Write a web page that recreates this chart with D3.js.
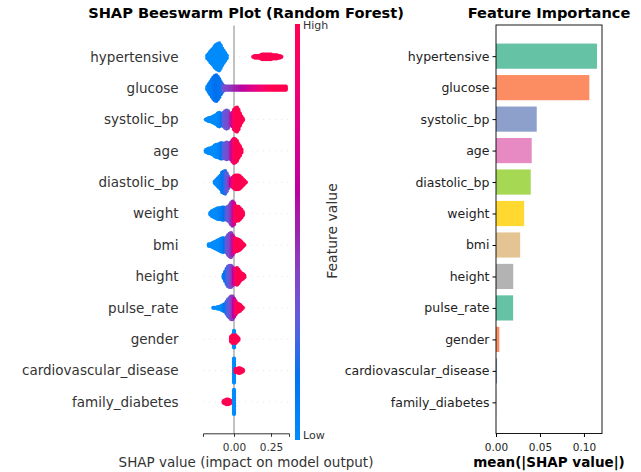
<!DOCTYPE html>
<html>
<head>
<meta charset="utf-8">
<script src="https://cdn.jsdelivr.net/npm/d3@7"></script>
<style>
  html, body { margin: 0; padding: 0; background: #fff; }
  svg { display: block; font-family: "DejaVu Sans", sans-serif; }
</style>
</head>
<body>
<script>
// Features, ordered from most to least important
const features = ["hypertensive", "glucose", "systolic_bp", "age", "diastolic_bp", "weight",
  "bmi", "height", "pulse_rate", "gender", "cardiovascular_disease", "family_diabetes"];

// mean(|SHAP value|) per feature
const meanAbsShap = [0.1148, 0.1061, 0.0463, 0.0406, 0.0395, 0.0320,
  0.0275, 0.0196, 0.0195, 0.0038, 0.0012, 0.0002];

// Set2 palette cycling over the bars
const barColors = ["#66c2a5", "#fc8d62", "#8da0cb", "#e78ac3", "#a6d854", "#ffd92f",
  "#e5c494", "#b3b3b3", "#66c2a5", "#fc8d62", "#8da0cb", "#e78ac3"];

const shapTicks = [0, 0.25];
const importanceTicks = [0, 0.05, 0.10];

// Beeswarm bins per feature: [SHAP value, number of stacked points, feature value 0..1]
const swarmBins = [
  // hypertensive
  [[-0.18,3,0],[-0.17,5,0],[-0.16,8,0],[-0.15,10,0],[-0.14,12,0],[-0.13,15,0],[-0.12,17,0],
   [-0.11,18,0],[-0.10,19,0],[-0.09,16,0],[-0.08,12,0],[-0.07,9,0],[-0.06,6,0],[-0.05,3,0],
   [0.13,1,1],[0.14,2,1],[0.15,2,1],[0.16,2,1],[0.17,2,1],[0.18,3,1],[0.19,4,1],[0.20,4,1],
   [0.21,4,1],[0.22,4,1],[0.23,4,1],[0.24,4,1],[0.25,4,1],[0.26,3,1],[0.27,3,1],[0.28,3,1],
   [0.29,3,1],[0.30,2,1],[0.31,2,1],[0.32,1,1]],
  // glucose
  [[-0.18,3,0.02],[-0.17,6,0.05],[-0.16,9,0.08],[-0.15,12,0.1],[-0.14,15,0.12],[-0.13,17,0.15],
   [-0.12,18,0.17],[-0.11,16,0.17],[-0.10,13,0.15],[-0.09,9,0.15],[-0.08,6,0.2],[-0.07,4,0.3],
   [-0.06,3,0.35],[-0.05,3,0.38],[-0.04,3,0.4],[-0.03,3,0.42],[-0.02,3,0.44],[-0.01,3,0.46],
   [0.00,3,0.48],[0.01,3,0.5],[0.02,3,0.52],[0.03,3,0.54],[0.04,3,0.56],[0.05,3,0.58],
   [0.06,3,0.6],[0.07,3,0.62],[0.08,3,0.64],[0.09,3,0.66],[0.10,3,0.68],[0.11,3,0.7],
   [0.12,3,0.72],[0.13,3,0.74],[0.14,3,0.76],[0.15,3,0.78],[0.16,3,0.8],[0.17,3,0.82],
   [0.18,3,0.84],[0.19,3,0.86],[0.20,3,0.88],[0.21,3,0.9],[0.22,3,0.92],[0.23,3,0.94],
   [0.24,3,0.96],[0.25,3,0.98],[0.26,3,1],[0.27,3,1],[0.28,3,1],[0.29,3,1],[0.30,3,1],
   [0.31,3,1],[0.32,3,1],[0.33,3,1],[0.34,3,1],[0.35,3,1]],
  // systolic_bp
  [[-0.19,1,0],[-0.18,2,0],[-0.17,3,0],[-0.16,3,0],[-0.15,4,0],[-0.14,5,0],[-0.13,6,0],
   [-0.12,7,0],[-0.11,9,0],[-0.10,10,0.03],[-0.09,9,0.08],[-0.08,8,0.15],[-0.07,10,0.28],
   [-0.06,12,0.3],[-0.05,13,0.32],[-0.04,12,0.35],[-0.03,9,0.4],[-0.02,8,0.5],[-0.01,10,0.7],
   [0.00,14,0.85],[0.01,16,1],[0.02,17,1],[0.03,14,1],[0.04,9,1],[0.05,5,1],[0.06,2,1]],
  // age
  [[-0.19,2,0],[-0.18,3,0],[-0.17,4,0],[-0.16,4,0],[-0.15,5,0],[-0.14,6,0],[-0.13,8,0],
   [-0.12,9,0],[-0.11,9,0],[-0.10,10,0.03],[-0.09,11,0.08],[-0.08,11,0.15],[-0.07,10,0.25],
   [-0.06,11,0.3],[-0.05,12,0.32],[-0.04,11,0.35],[-0.03,11,0.4],[-0.02,12,0.5],
   [-0.01,15,0.7],[0.00,17,0.85],[0.01,16,1],[0.02,14,1],[0.03,10,1],[0.04,7,1],[0.05,3,1]],
  // diastolic_bp
  [[-0.13,2,0],[-0.12,4,0],[-0.11,6,0],[-0.10,8,0.03],[-0.09,10,0.06],[-0.08,14,0.1],
   [-0.07,15,0.15],[-0.06,16,0.2],[-0.05,13,0.28],[-0.04,9,0.35],[-0.03,6,0.45],[-0.02,5,0.6],
   [-0.01,7,0.8],[0.00,9,0.92],[0.01,10,1],[0.02,10,1],[0.03,10,1],[0.04,9,1],[0.05,7,1],
   [0.06,5,1],[0.07,3,1],[0.08,1,1]],
  // weight
  [[-0.16,2,0],[-0.15,4,0],[-0.14,5,0],[-0.13,6,0],[-0.12,7,0],[-0.11,8,0],[-0.10,8,0.03],
   [-0.09,8,0.06],[-0.08,9,0.1],[-0.07,9,0.14],[-0.06,8,0.18],[-0.05,9,0.25],[-0.04,10,0.3],
   [-0.03,12,0.35],[-0.02,15,0.4],[-0.01,17,0.5],[0.00,15,0.7],[0.01,11,0.95],[0.02,10,1],
   [0.03,10,1],[0.04,8,1],[0.05,6,1],[0.06,3,1]],
  // bmi
  [[-0.17,2,0],[-0.16,2,0],[-0.15,3,0],[-0.14,4,0],[-0.13,5,0],[-0.12,6,0],[-0.11,7,0],
   [-0.10,8,0],[-0.09,9,0.03],[-0.08,10,0.06],[-0.07,10,0.1],[-0.06,9,0.18],[-0.05,11,0.28],
   [-0.04,14,0.32],[-0.03,16,0.36],[-0.02,17,0.42],[-0.01,14,0.55],[0.00,11,0.75],[0.01,9,0.95],
   [0.02,9,1],[0.03,8,1],[0.04,7,1],[0.05,5,1],[0.06,3,1],[0.07,1,1]],
  // height
  [[-0.07,3,0.1],[-0.06,7,0.15],[-0.05,11,0.2],[-0.04,14,0.25],[-0.03,15,0.3],[-0.02,15,0.35],
   [-0.01,13,0.45],[0.00,11,0.6],[0.01,11,0.8],[0.02,12,0.95],[0.03,10,1],[0.04,7,1],[0.05,5,1],
   [0.06,4,1],[0.07,2,1]],
  // pulse_rate
  [[-0.14,1,0],[-0.13,1,0],[-0.12,1,0],[-0.11,2,0],[-0.10,2,0],[-0.09,3,0],[-0.08,4,0],
   [-0.07,5,0.08],[-0.06,6,0.15],[-0.05,9,0.2],[-0.04,12,0.25],[-0.03,14,0.3],[-0.02,16,0.35],
   [-0.01,16,0.45],[0.00,13,0.6],[0.01,10,0.8],[0.02,7,0.95],[0.03,6,1],[0.04,5,1],[0.05,3,1],
   [0.06,1,1]],
  // gender
  [[0.00,12,0],[-0.02,4,1],[-0.01,6,1],[0.01,6,1],[0.02,4,1],[0.03,2,1]],
  // cardiovascular_disease
  [[0.00,17,0],[0.01,3,1],[0.02,3,1],[0.03,4,1],[0.04,4,1],[0.05,3,1],[0.06,2,1]],
  // family_diabetes
  [[-0.07,2,1],[-0.06,3,1],[-0.05,4,1],[-0.04,4,1],[-0.03,3,1],[-0.02,2,1],[0.00,17,0]]
];

const W = 641, H = 472;
const svg = d3.select("body").append("svg").attr("width", W).attr("height", H);
svg.append("rect").attr("width", W).attr("height", H).attr("fill", "#fff");

// Blue-to-red feature value colormap: hue swept through purple in LCh (D65),
// lightness dipping in the middle so the purples stay deep
function featureColor(t) {
  const L = t < 0.5 ? 54 - 14 * (t / 0.5) : 40 + 14 * ((t - 0.5) / 0.5);
  const C = 70 + 20 * t;
  const h0 = 4.6588, h1 = 0.35470565 + 2 * Math.PI;
  const h = h0 + t * (h1 - h0);
  const a = C * Math.cos(h), b = C * Math.sin(h);
  const fy = (L + 16) / 116, fx = fy + a / 500, fz = fy - b / 200;
  const finv = v => v > 0.206893 ? v * v * v : (v - 16 / 116) / 7.787;
  const X = 0.95047 * finv(fx), Y = finv(fy), Z = 1.08883 * finv(fz);
  const lin = [
    3.2406 * X - 1.5372 * Y - 0.4986 * Z,
    -0.9689 * X + 1.8758 * Y + 0.0415 * Z,
    0.0557 * X - 0.2040 * Y + 1.0570 * Z
  ];
  const g = v => {
    const s = v > 0.0031308 ? 1.055 * Math.pow(v, 1 / 2.4) - 0.055 : 12.92 * v;
    return Math.round(255 * Math.max(0, Math.min(1, s)));
  };
  return d3.rgb(g(lin[0]), g(lin[1]), g(lin[2])).formatHex();
}

// ---------- Beeswarm panel ----------
const xS = d3.scaleLinear().domain([-0.2095, 0.3716]).range([203, 289]);
const yS = d3.scaleLinear().domain([-1, 12]).range([25.4, 433.3]);
const left = svg.append("g");

// dotted row guides
left.append("g").selectAll("line").data(features).join("line")
  .attr("x1", xS.range()[0]).attr("x2", xS.range()[1])
  .attr("y1", (d, i) => yS(i)).attr("y2", (d, i) => yS(i))
  .attr("stroke", "#cccccc").attr("stroke-width", 0.5).attr("stroke-dasharray", "1,5");

// zero line
left.append("line")
  .attr("x1", xS(0)).attr("x2", xS(0)).attr("y1", yS(-1)).attr("y2", yS(12))
  .attr("stroke", "#999999").attr("stroke-width", 1.2);

// points
const step = 1.5, rad = 2.1;
const dots = [];
swarmBins.forEach((bins, i) => {
  bins.forEach(([s, n, c]) => {
    for (let k = 0; k < n; k++) {
      dots.push({ x: xS(s), y: yS(i) + (k - (n - 1) / 2) * step, c });
    }
  });
});
left.append("g").selectAll("circle").data(dots).join("circle")
  .attr("cx", d => d.x).attr("cy", d => d.y).attr("r", rad)
  .attr("fill", d => featureColor(d.c));

// feature labels
left.append("g").selectAll("text").data(features).join("text")
  .attr("x", 178.5).attr("y", (d, i) => yS(i)).attr("dy", "0.35em")
  .attr("text-anchor", "end").attr("font-size", 13.5).attr("fill", "#333333")
  .text(d => d);

// x axis
const xAxisL = left.append("g").attr("transform", `translate(0,${yS(12)})`)
  .call(d3.axisBottom(xS).tickValues(shapTicks).tickFormat(d3.format(".2f")).tickSizeOuter(0).tickSize(3.5));
xAxisL.select(".domain").attr("stroke", "#333333");
xAxisL.selectAll(".tick line").attr("stroke", "#333333");
xAxisL.selectAll(".tick text").attr("font-size", 10.5).attr("fill", "#333333")
  .attr("font-family", "DejaVu Sans").attr("dy", "1.05em");

left.append("text").attr("x", 246).attr("y", 466.5).attr("text-anchor", "middle")
  .attr("font-size", 13.5).attr("fill", "#333333")
  .text("SHAP value (impact on model output)");

left.append("text").attr("x", 246).attr("y", 17.5).attr("text-anchor", "middle")
  .attr("font-size", 14.6).attr("font-weight", "bold").attr("fill", "#000")
  .text("SHAP Beeswarm Plot (Random Forest)");

// colour bar
const defs = svg.append("defs");
const grad = defs.append("linearGradient").attr("id", "fv")
  .attr("x1", 0).attr("y1", 1).attr("x2", 0).attr("y2", 0);
d3.range(0, 1.0001, 0.05).forEach(t => {
  grad.append("stop").attr("offset", t).attr("stop-color", featureColor(t));
});
const cbTop = 24, cbBottom = 440;
svg.append("rect").attr("x", 295).attr("y", cbTop).attr("width", 5)
  .attr("height", cbBottom - cbTop).attr("fill", "url(#fv)");
svg.append("text").attr("x", 303).attr("y", cbTop + 1.5).attr("dy", "0.35em")
  .attr("font-size", 11).attr("fill", "#333333").text("High");
svg.append("text").attr("x", 303).attr("y", 435.5).attr("dy", "0.35em")
  .attr("font-size", 11).attr("fill", "#333333").text("Low");
svg.append("text").attr("transform", "translate(337,231) rotate(-90)")
  .attr("text-anchor", "middle").attr("font-size", 14).attr("fill", "#333333")
  .text("Feature value");

// ---------- Importance panel ----------
const xR = d3.scaleLinear().domain([0, 0.1205]).range([496, 602]);
const yR = d3.scaleLinear().domain([-0.99, 11.99]).range([25, 433.5]);
const right = svg.append("g");
const barH = yR(0.4) - yR(-0.4);

right.append("g").selectAll("rect").data(meanAbsShap).join("rect")
  .attr("x", xR(0)).attr("y", (d, i) => yR(i) - barH / 2)
  .attr("width", d => xR(d) - xR(0)).attr("height", barH)
  .attr("fill", (d, i) => barColors[i]);

right.append("rect").attr("x", 496).attr("y", 25).attr("width", 106).attr("height", 408.5)
  .attr("fill", "none").attr("stroke", "#000").attr("stroke-width", 0.9);

const yAxisR = right.append("g").attr("transform", "translate(496,0)")
  .call(d3.axisLeft(yR).tickValues(d3.range(features.length))
    .tickFormat(i => features[i]).tickSize(3.5).tickSizeOuter(0));
yAxisR.select(".domain").remove();
yAxisR.selectAll(".tick text").attr("font-size", 12.5).attr("fill", "#222")
  .attr("font-family", "DejaVu Sans").attr("x", -6.5);

const xAxisR = right.append("g").attr("transform", "translate(0,433.5)")
  .call(d3.axisBottom(xR).tickValues(importanceTicks).tickFormat(d3.format(".2f"))
    .tickSize(3.5).tickSizeOuter(0));
xAxisR.select(".domain").remove();
xAxisR.selectAll(".tick text").attr("font-size", 10.5).attr("fill", "#222")
  .attr("font-family", "DejaVu Sans").attr("dy", "1.05em");

right.append("text").attr("x", 549).attr("y", 17.5).attr("text-anchor", "middle")
  .attr("font-size", 14.6).attr("font-weight", "bold").attr("fill", "#000")
  .text("Feature Importance");

right.append("text").attr("x", 549).attr("y", 466.5).attr("text-anchor", "middle")
  .attr("font-size", 13.5).attr("font-weight", "bold").attr("fill", "#000")
  .text("mean(|SHAP value|)");
</script>
</body>
</html>
